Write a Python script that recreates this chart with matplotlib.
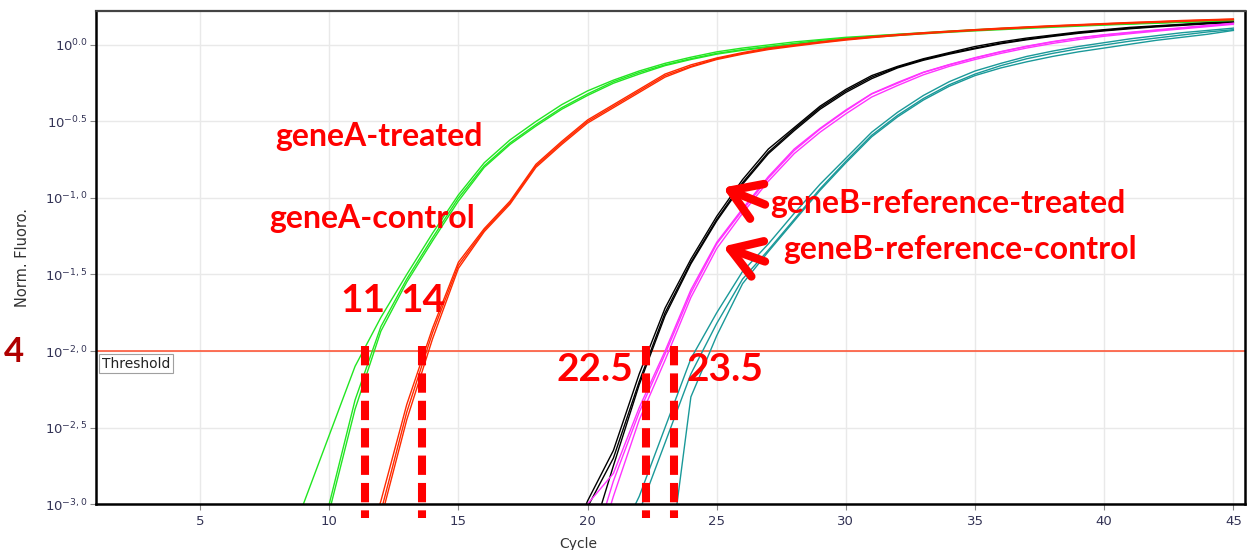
import matplotlib
matplotlib.use("Agg")
import matplotlib.pyplot as plt
import numpy as np

# amplification curves: log10(norm. fluorescence) at whole cycles, from the start cycle to 45
ga_treated_starts = [8, 9, 9]
ga_treated = [
    [-3.45, -3.0, -2.55, -2.1, -1.78, -1.5, -1.23, -0.98, -0.77, -0.62, -0.5, -0.39, -0.3,
     -0.23, -0.17, -0.12, -0.08, -0.045, -0.02, 0.0, 0.02, 0.035, 0.05, 0.06, 0.07, 0.08,
     0.09, 0.1, 0.108, 0.115, 0.122, 0.128, 0.134, 0.14, 0.145, 0.15, 0.155, 0.16],
    [-3.5, -3.0, -2.32, -1.84, -1.53, -1.26, -1.0, -0.79, -0.64, -0.52, -0.41, -0.32, -0.24,
     -0.18, -0.13, -0.09, -0.055, -0.03, -0.01, 0.01, 0.03, 0.045, 0.057, 0.068, 0.078,
     0.088, 0.097, 0.105, 0.113, 0.12, 0.127, 0.133, 0.139, 0.145, 0.15, 0.155, 0.16],
    [-3.55, -3.05, -2.38, -1.87, -1.55, -1.28, -1.02, -0.8, -0.65, -0.53, -0.42, -0.33,
     -0.25, -0.19, -0.135, -0.095, -0.06, -0.035, -0.015, 0.005, 0.022, 0.038, 0.05, 0.062,
     0.073, 0.083, 0.092, 0.1, 0.108, 0.116, 0.123, 0.13, 0.136, 0.142, 0.148, 0.153, 0.158],
]

ga_control_starts = [11, 11, 11]
ga_control = [
    [-3.5, -2.98, -2.35, -1.85, -1.42, -1.2, -1.02, -0.78, -0.63, -0.49, -0.39, -0.29, -0.19,
     -0.13, -0.085, -0.05, -0.02, 0.0, 0.02, 0.04, 0.055, 0.068, 0.08, 0.09, 0.1, 0.11,
     0.118, 0.126, 0.133, 0.14, 0.147, 0.153, 0.16, 0.165, 0.17],
    [-3.55, -3.05, -2.4, -1.88, -1.44, -1.21, -1.03, -0.79, -0.64, -0.5, -0.4, -0.3, -0.2,
     -0.14, -0.09, -0.055, -0.025, -0.003, 0.017, 0.036, 0.052, 0.065, 0.077, 0.088, 0.098,
     0.107, 0.116, 0.124, 0.131, 0.138, 0.145, 0.151, 0.157, 0.163, 0.168],
    [-3.6, -3.1, -2.45, -1.92, -1.46, -1.22, -1.04, -0.8, -0.65, -0.51, -0.41, -0.31, -0.21,
     -0.145, -0.095, -0.06, -0.03, -0.008, 0.013, 0.032, 0.048, 0.062, 0.074, 0.085, 0.095,
     0.104, 0.113, 0.121, 0.128, 0.135, 0.142, 0.148, 0.154, 0.16, 0.165],
]

gb_treated_starts = [19, 19, 19]
gb_treated = [
    [-3.4, -2.98, -2.65, -2.15, -1.72, -1.4, -1.12, -0.88, -0.68, -0.54, -0.4, -0.29, -0.2,
     -0.14, -0.09, -0.05, -0.01, 0.02, 0.045, 0.065, 0.085, 0.1, 0.115, 0.125, 0.135, 0.145,
     0.15],
    [-3.45, -3.02, -2.7, -2.2, -1.75, -1.42, -1.14, -0.9, -0.7, -0.55, -0.41, -0.3, -0.21,
     -0.145, -0.095, -0.055, -0.02, 0.012, 0.038, 0.06, 0.08, 0.096, 0.11, 0.122, 0.132,
     0.142, 0.148],
    [-3.6, -3.3, -2.75, -2.22, -1.77, -1.43, -1.15, -0.91, -0.71, -0.56, -0.42, -0.31, -0.22,
     -0.15, -0.1, -0.06, -0.025, 0.008, 0.034, 0.056, 0.076, 0.092, 0.106, 0.118, 0.128,
     0.138, 0.145],
]

gb_control_starts = [20, 20, 20]
gb_control = [
    [-3.4, -2.85, -2.4, -2.02, -1.62, -1.3, -1.08, -0.87, -0.69, -0.55, -0.43, -0.32, -0.25,
     -0.18, -0.13, -0.085, -0.045, -0.01, 0.02, 0.045, 0.065, 0.08, 0.095, 0.11, 0.125, 0.14],
    [-3.5, -2.95, -2.45, -2.06, -1.65, -1.33, -1.1, -0.89, -0.71, -0.57, -0.45, -0.34, -0.265,
     -0.195, -0.14, -0.095, -0.055, -0.02, 0.01, 0.035, 0.057, 0.074, 0.09, 0.105, 0.12,
     0.135],
    [-3.0, -2.8, -2.37, -2.0, -1.6, -1.29, -1.07, -0.86, -0.68, -0.545, -0.425, -0.318,
     -0.245, -0.178, -0.128, -0.083, -0.043, -0.008, 0.022, 0.047, 0.067, 0.083, 0.098,
     0.113, 0.128, 0.142],
]

gb_other_starts = [21, 23, 21]
gb_other = [
    [-3.3, -2.95, -2.5, -2.05, -1.75, -1.48, -1.3, -1.1, -0.91, -0.74, -0.57, -0.44, -0.33,
     -0.24, -0.17, -0.12, -0.075, -0.04, -0.01, 0.015, 0.04, 0.06, 0.08, 0.095, 0.11],
    [-3.6, -2.3, -1.9, -1.56, -1.35, -1.15, -0.95, -0.77, -0.6, -0.47, -0.36, -0.27, -0.2,
     -0.15, -0.11, -0.075, -0.045, -0.02, 0.005, 0.03, 0.05, 0.07, 0.095],
    [-3.4, -3.05, -2.6, -2.15, -1.82, -1.53, -1.34, -1.14, -0.94, -0.76, -0.59, -0.46, -0.35,
     -0.26, -0.19, -0.135, -0.09, -0.055, -0.025, 0.0, 0.025, 0.045, 0.065, 0.085, 0.1],
]

threshold = -2.0
ct_marks = [11.38, 13.6, 22.25, 23.33]
ytick_exp = [0.0, -0.5, -1.0, -1.5, -2.0, -2.5, -3.0]
ytick_text = ["0.0", "-0.5", "-1,0", "-1,5", "-2,0", "-2,5", "-3,0"]
xticks = [5, 10, 15, 20, 25, 30, 35, 40, 45]

fig = plt.figure(figsize=(12.53, 5.5), dpi=100)
ax = fig.add_axes([0.0766, 0.0836, 0.9170, 0.8964])

groups = [
    (ga_treated_starts, ga_treated, "#22e622"),
    (ga_control_starts, ga_control, "#ff2a00"),
    (gb_treated_starts, gb_treated, "#000000"),
    (gb_control_starts, gb_control, "#ff33ff"),
    (gb_other_starts, gb_other, "#1a9999"),
]
for starts, reps, col in groups:
    for s, vals in zip(starts, reps):
        cyc = np.arange(s, s + len(vals))
        ax.plot(cyc, 10 ** np.array(vals), color=col, lw=1.0)

ax.set_yscale("log")
ax.set_xlim(0.97, 45.45)
ax.set_ylim(10 ** -3.0, 10 ** 0.222)

ax.axhline(10 ** threshold, color="#ff4a2a", lw=1.1, zorder=1)
ax.annotate("Threshold", xy=(0, 10 ** threshold), xycoords=("axes fraction", "data"),
            xytext=(4, -4), textcoords="offset points", ha="left", va="top",
            fontsize=10, color="#222222",
            bbox=dict(boxstyle="square,pad=0.2", fc="white", ec="#a0a0a0", lw=0.8))

ax.yaxis.set_major_locator(matplotlib.ticker.FixedLocator([10 ** e for e in ytick_exp]))
ax.yaxis.set_minor_locator(matplotlib.ticker.NullLocator())
ax.set_yticklabels([r"$10^{%s}$" % t for t in ytick_text])
ax.set_xticks(xticks)
ax.tick_params(axis="both", labelsize=9.5, labelcolor="#333355", color="#888888",
               length=4, width=0.8)
ax.tick_params(axis="x", pad=4)
ax.tick_params(axis="y", pad=2)
ax.grid(True, color="#e9e9e9", lw=1.0)
ax.set_axisbelow(True)

for side in ["left", "bottom", "right"]:
    ax.spines[side].set_color("black")
    ax.spines[side].set_linewidth(1.8)
ax.spines["top"].set_color("#444444")
ax.spines["top"].set_linewidth(1.6)

ax.set_ylabel("Norm. Fluoro.", fontsize=10.5, color="#333333")
ax.yaxis.set_label_coords(-0.0574, 0.5)
ax.set_xlabel("Cycle", fontsize=10, color="#333333")
ax.xaxis.set_label_coords(0.42, -0.066)

# Ct markers
for x in ct_marks:
    ax.plot([x, x], [0.32, -0.028], transform=ax.get_xaxis_transform(), color="red",
            lw=5.8, ls=(0, (2.4, 1.0)), clip_on=False, solid_capstyle="butt")

red = "#ff0000"
font = dict(family=["Lato", "DejaVu Sans"], weight="bold", color=red)
ax.text(11.93, 10 ** -0.658, "geneA-treated", ha="center", va="baseline", fontsize=23, **font)
ax.text(11.66, 10 ** -1.193, "geneA-control", ha="center", va="baseline", fontsize=23, **font)
ax.text(27.06, 10 ** -1.095, "geneB-reference-treated", ha="left", va="baseline",
        fontsize=23, **font)
ax.text(27.56, 10 ** -1.40, "geneB-reference-control", ha="left", va="baseline",
        fontsize=23, **font)
ax.text(11.3, 10 ** -1.747, "11", ha="center", va="baseline", fontsize=28, **font)
ax.text(13.63, 10 ** -1.747, "14", ha="center", va="baseline", fontsize=28, **font)
ax.text(20.28, 10 ** -2.197, "22.5", ha="center", va="baseline", fontsize=28, **font)
ax.text(25.3, 10 ** -2.197, "23.5", ha="center", va="baseline", fontsize=28, **font)

for tip, tail in [((25.24, -0.932), (26.87, -1.043)), ((25.24, -1.317), (26.87, -1.415))]:
    ax.annotate("", xy=(tip[0], 10 ** tip[1]), xytext=(tail[0], 10 ** tail[1]),
                arrowprops=dict(arrowstyle="->,head_length=0.7,head_width=0.45",
                                color=red, lw=6, mutation_scale=30, shrinkA=0, shrinkB=0))

fig.text(14 / 1253, 1 - 352 / 550, "4", ha="center", va="center", fontsize=25,
         color="#b00000", family=["Lato", "DejaVu Sans"], weight="bold")

fig.savefig("out.png", dpi=100)
